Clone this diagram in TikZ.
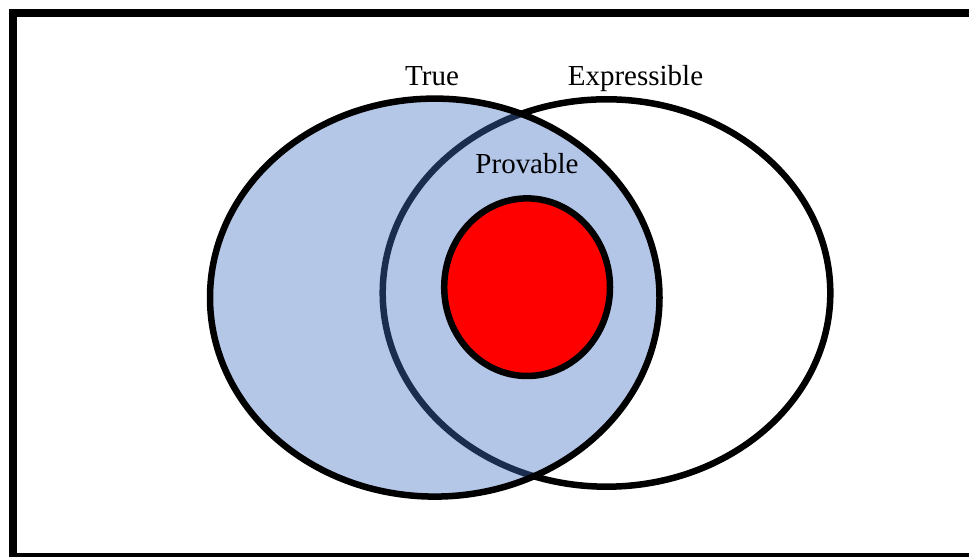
\documentclass[tikz,border=0pt]{standalone}
\usepackage{fontspec}
\setmainfont{Liberation Serif}
\usetikzlibrary{positioning}
\definecolor{officeblue}{RGB}{68,114,196}
\definecolor{pureRed}{RGB}{255,0,0}
\tikzset{
  frame/.style={
    draw=black,
    line width=4.4pt
  },
  conjunto/.style={
    draw=black,
    line width=3.7pt
  },
  etiqueta/.style={
    anchor=base,
    inner sep=0pt,
    font=\fontsize{16.5}{20}\selectfont
  }
}
\begin{document}
\begin{tikzpicture}[x=0.02cm,y=0.02cm]
\useasboundingbox (0,0) rectangle (969,557);
\draw[frame] (12.9,-0.2) rectangle (985,544.1);
\draw[conjunto, fill=white] (606.5,264) ellipse [x radius=223.8, y radius=193.7];
\draw[conjunto, fill=officeblue, fill opacity=0.4] (434.75,259.4) ellipse [x radius=224.75, y radius=199];
\draw[conjunto, fill=pureRed] (527.1,269.8) ellipse [x radius=82.9, y radius=88.8];
\node[etiqueta] (true) at (432,471) {True};
\node[etiqueta] (expr) at (635.5,471) {Expressible};
\node[etiqueta] (prov) at (527,383.7) {Provable};
\end{tikzpicture}
\end{document}
